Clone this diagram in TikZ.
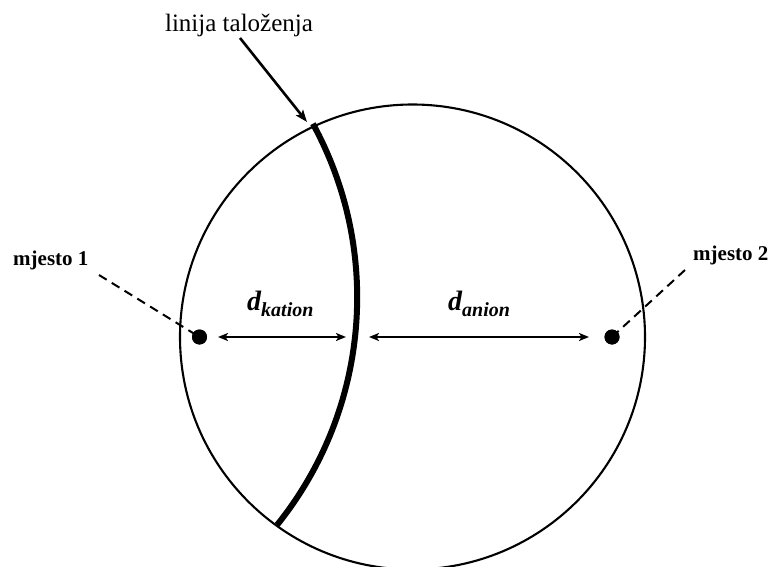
\documentclass[tikz,border=0pt]{standalone}
\usepackage{fontspec}
\setmainfont{Liberation Serif}
\usetikzlibrary{arrows.meta}
\begin{document}
\begin{tikzpicture}[x=1pt,y=1pt,
  thin line/.style={line width=2.1pt},
  dimarrow/.style={line width=2.6pt,{Stealth[length=10pt,width=8pt,inset=2.5pt]}-{Stealth[length=10pt,width=8pt,inset=2.5pt]}},
  pointer/.style={line width=2.6pt,-{Stealth[length=12pt,width=9pt,inset=2.5pt]}},
  leader/.style={line width=2pt,dash pattern=on 9pt off 6pt},
  site/.style={circle,fill=black,inner sep=0pt,minimum size=15pt},
  lbl/.style={inner sep=0pt,font=\fontsize{25}{25}\selectfont},
  sitelbl/.style={inner sep=0pt,anchor=base west,font=\fontsize{21}{21}\selectfont\bfseries},
  dlbl/.style={inner sep=0pt,anchor=base west}
]
\useasboundingbox (0,0) rectangle (771,566);
% main circle
\draw[thin line] (412.5,229) circle[radius=232.5];
% precipitation line
\draw[line width=6pt] (-5.8,268.5) ++(28.6:363) coordinate (ptop) arc[start angle=28.6,end angle=-38.8,radius=363] coordinate (pbot);
% sites
\coordinate (l1) at (99,291);
\coordinate (l2) at (685,296);
\node[site] (p1) at (199.5,229) {};
\node[site] (p2) at (612,229) {};
\draw[leader] (l1) -- (p1.center);
\draw[leader] (l2) -- (p2.center);
\node[site] at (p1) {};
\node[site] at (p2) {};
% labels
\node[lbl,anchor=base] (tal) at (239,534) {linija taloženja};
\node[sitelbl] (m1) at (13,301) {mjesto 1};
\node[sitelbl] (m2) at (693,306) {mjesto 2};
% pointer
\coordinate (ts) at (240,528);
\draw[pointer] (ts) -- (307,444);
% dimension arrows
\coordinate (k1) at (218,229);
\coordinate (k2) at (346,229);
\coordinate (a1) at (369,229);
\coordinate (a2) at (589,229);
\draw[dimarrow] (k1) -- (k2);
\draw[dimarrow] (a1) -- (a2);
\node[dlbl] (dk) at (247,256) {\fontsize{28}{28}\selectfont\bfseries\itshape d\raisebox{-6pt}{\fontsize{20}{20}\selectfont kation}};
\node[dlbl] (da) at (448,256) {\fontsize{28}{28}\selectfont\bfseries\itshape d\raisebox{-6pt}{\fontsize{20}{20}\selectfont anion}};
\end{tikzpicture}
\end{document}
